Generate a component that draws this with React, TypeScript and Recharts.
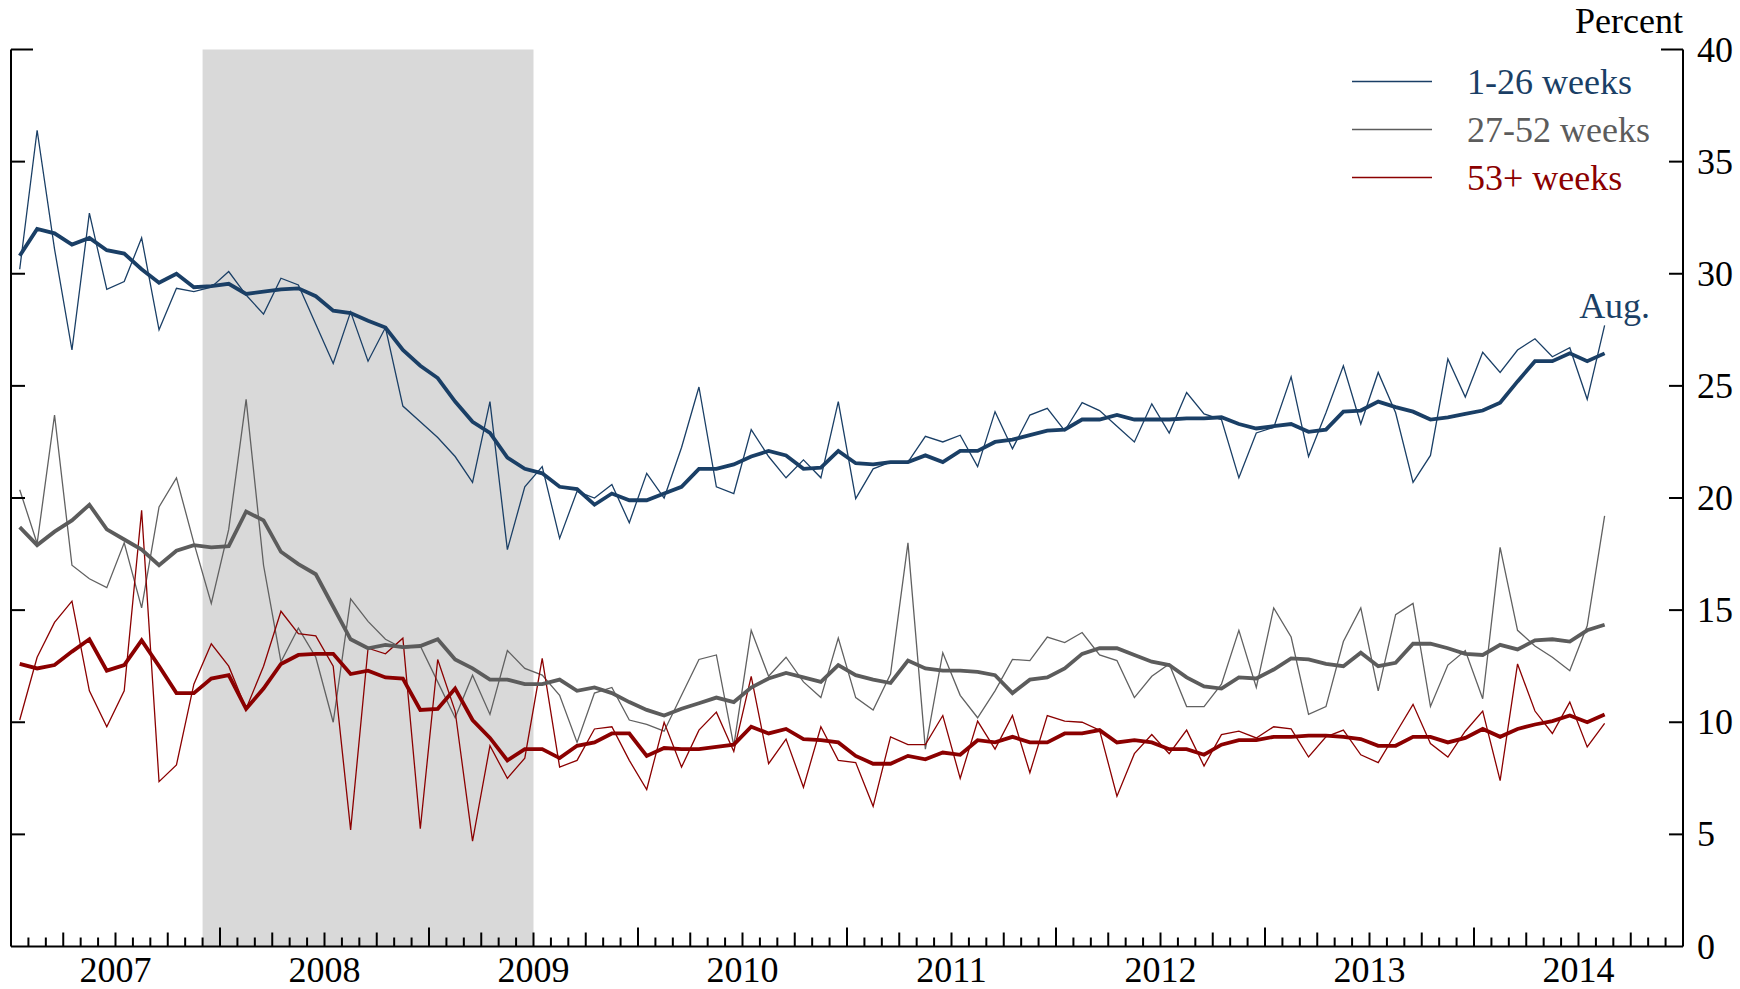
import { ComposedChart, Line, XAxis, YAxis, ReferenceArea } from 'recharts';

// monthly, Jan 2007 - Aug 2014 (index 0 = Jan 2007)
const years = ['2007', '2008', '2009', '2010', '2011', '2012', '2013', '2014'];
const recession = [11, 30]; // Dec 2007 to end of Jun 2009, in months from Jan 2007
const yTicks = [0, 5, 10, 15, 20, 25, 30, 35, 40];

const short = [
  30.2, 36.4, 31.1, 26.6, 32.7, 29.3, 29.65, 31.6, 27.5, 29.35, 29.2, 29.4,
  30.1, 29.05, 28.2, 29.8, 29.5, 27.75, 26.0, 28.3, 26.1, 27.6, 24.1, 23.4,
  22.7, 21.85, 20.7, 24.3, 17.7, 20.5, 21.4, 18.2, 20.3, 20.0, 20.6, 18.9,
  21.1, 20.0, 22.25, 24.95, 20.5, 20.2, 23.05, 21.85, 20.9, 21.7, 20.9, 24.3,
  19.97, 21.3, 21.6, 21.6, 22.75, 22.5, 22.8, 21.4, 23.85, 22.2, 23.7, 24.0,
  23.0, 24.25, 23.9, 23.2, 22.5, 24.2, 22.9, 24.7, 23.75, 23.5, 20.9, 22.9,
  23.15, 25.4, 21.85, 23.8, 25.9, 23.3, 25.6, 23.8, 20.7, 21.9, 26.2, 24.5,
  26.5, 25.6, 26.6, 27.1, 26.3, 26.7, 24.4, 27.7,
];
const shortAvg = [
  30.8, 32.0, 31.8, 31.3, 31.6, 31.05, 30.9, 30.2, 29.6, 30.0, 29.4, 29.45,
  29.55, 29.1, 29.2, 29.3, 29.35, 29.0, 28.35, 28.25, 27.9, 27.6, 26.6, 25.9,
  25.35, 24.3, 23.4, 22.9, 21.8, 21.3, 21.1, 20.5, 20.4, 19.7, 20.2, 19.9,
  19.9, 20.2, 20.5, 21.3, 21.3, 21.5, 21.85, 22.1, 21.9, 21.3, 21.35, 22.1,
  21.55, 21.5, 21.6, 21.6, 21.9, 21.6, 22.1, 22.1, 22.5, 22.6, 22.8, 23.0,
  23.05, 23.5, 23.5, 23.7, 23.5, 23.5, 23.5, 23.55, 23.55, 23.6, 23.3, 23.1,
  23.2, 23.3, 22.95, 23.05, 23.85, 23.9, 24.3, 24.05, 23.85, 23.5, 23.6, 23.75,
  23.9, 24.25, 25.2, 26.1, 26.1, 26.45, 26.1, 26.45,
];
const mid = [
  20.37, 17.97, 23.7, 17.0, 16.4, 16.0, 18.0, 15.1, 19.6, 20.9, 18.0, 15.3,
  18.6, 24.4, 17.0, 12.7, 14.2, 12.9, 10.0, 15.5, 14.5, 13.7, 13.3, 13.4,
  11.8, 10.2, 12.1, 10.35, 13.2, 12.4, 12.1, 11.2, 9.1, 11.3, 11.55, 10.1,
  9.9, 9.6, 11.2, 12.8, 13.0, 8.95, 14.1, 12.05, 12.9, 11.8, 11.1, 13.75,
  11.1, 10.55, 12.15, 18.0, 8.8, 13.1, 11.2, 10.2, 11.4, 12.8, 12.75, 13.8,
  13.55, 14.0, 13.0, 12.75, 11.1, 12.05, 12.6, 10.7, 10.7, 11.7, 14.1, 11.55,
  15.1, 13.8, 10.35, 10.7, 13.6, 15.1, 11.4, 14.8, 15.3, 10.7, 12.55, 13.2,
  11.05, 17.8, 14.1, 13.4, 12.9, 12.3, 14.3, 19.2,
];
const midAvg = [
  18.7, 17.9, 18.5, 19.0, 19.7, 18.6, 18.15, 17.7, 17.0, 17.65, 17.9, 17.8,
  17.85, 19.4, 19.0, 17.6, 17.05, 16.6, 15.15, 13.7, 13.3, 13.45, 13.35, 13.4,
  13.7, 12.8, 12.4, 11.9, 11.9, 11.7, 11.7, 11.9, 11.4, 11.55, 11.3, 10.9,
  10.55, 10.3, 10.6, 10.85, 11.1, 10.9, 11.55, 11.95, 12.2, 12.0, 11.8, 12.55,
  12.1, 11.9, 11.75, 12.75, 12.4, 12.3, 12.3, 12.25, 12.1, 11.3, 11.9, 12.0,
  12.4, 13.05, 13.3, 13.3, 13.0, 12.7, 12.55, 12.0, 11.6, 11.5, 12.0, 11.95,
  12.35, 12.85, 12.8, 12.6, 12.5, 13.1, 12.5, 12.65, 13.5, 13.5, 13.3, 13.05,
  13.0, 13.45, 13.25, 13.65, 13.7, 13.6, 14.1, 14.35,
];
const long = [
  10.1, 12.9, 14.45, 15.4, 11.4, 9.8, 11.4, 19.45, 7.35, 8.1, 11.7, 13.5,
  12.5, 10.6, 12.5, 14.95, 13.95, 13.85, 12.5, 5.2, 13.3, 13.05, 13.75, 5.25,
  12.8, 10.5, 4.7, 8.95, 7.5, 8.4, 12.85, 8.0, 8.3, 9.7, 9.8, 8.3,
  7.0, 10.0, 8.0, 9.65, 10.45, 8.7, 12.05, 8.15, 9.25, 7.1, 9.8, 8.3,
  8.2, 6.25, 9.35, 9.0, 9.0, 10.3, 7.5, 10.05, 8.8, 10.3, 7.75, 10.3,
  10.05, 10.0, 9.65, 6.7, 8.6, 9.45, 8.6, 9.65, 8.05, 9.45, 9.6, 9.3,
  9.8, 9.7, 8.45, 9.35, 9.65, 8.55, 8.2, 9.5, 10.8, 9.05, 8.45, 9.6,
  10.5, 7.4, 12.6, 10.5, 9.5, 10.9, 8.9, 9.95,
];
const longAvg = [
  12.6, 12.4, 12.55, 13.15, 13.7, 12.3, 12.55, 13.65, 12.5, 11.3, 11.3, 11.95,
  12.1, 10.6, 11.5, 12.6, 13.0, 13.05, 13.05, 12.15, 12.3, 12.0, 11.95, 10.55,
  10.6, 11.5, 10.1, 9.3, 8.3, 8.8, 8.8, 8.4, 8.95, 9.1, 9.5, 9.5,
  8.5, 8.85, 8.8, 8.8, 8.9, 9.0, 9.8, 9.5, 9.7, 9.25, 9.2, 9.1,
  8.5, 8.15, 8.15, 8.5, 8.35, 8.65, 8.55, 9.2, 9.1, 9.35, 9.1, 9.1,
  9.5, 9.5, 9.65, 9.1, 9.2, 9.1, 8.8, 8.8, 8.55, 9.0, 9.2, 9.2,
  9.35, 9.35, 9.4, 9.4, 9.35, 9.25, 8.95, 8.95, 9.35, 9.35, 9.1, 9.3,
  9.7, 9.35, 9.7, 9.9, 10.05, 10.3, 10.0, 10.35,
];

const BLUE = '#1a3f66';
const GRAY = '#5c5c5c';
const RED = '#8b0000';
const FONT = 'Liberation Serif, Times New Roman, serif';

const data = short.map((v, i) => ({
  m: i + 0.5,
  short: v,
  shortAvg: shortAvg[i],
  mid: mid[i],
  midAvg: midAvg[i],
  long: long[i],
  longAvg: longAvg[i],
}));

const monthTicks = Array.from({ length: 97 }, (_, i) => i);

function MonthTick({ x, y, payload }: any) {
  const v = payload.value;
  let len = 9;
  if (v % 12 === 0) len = 19;
  else if (v % 3 === 0) len = 14;
  return (
    <g>
      {v > 0 && v < 96 && (
        <line x1={x} x2={x} y1={y} y2={y - len} stroke="#000" strokeWidth={2} />
      )}
      {v % 12 === 6 && (
        <text x={x} y={y + 35.5} textAnchor="middle" style={{ fontFamily: FONT }} fontSize={36} fill="#000">
          {years[(v - 6) / 12]}
        </text>
      )}
    </g>
  );
}

function RightTick({ x, y, payload }: any) {
  const v = payload.value;
  const len = v === 40 ? 22 : 14;
  return (
    <g>
      {v > 0 && <line x1={x} x2={x - len} y1={y} y2={y} stroke="#000" strokeWidth={2} />}
      <text x={x + 14} y={y + 12} textAnchor="start" style={{ fontFamily: FONT }} fontSize={36} fill="#000">
        {v}
      </text>
    </g>
  );
}

function LeftTick({ x, y, payload }: any) {
  const v = payload.value;
  if (v === 0) return <g />;
  const len = v === 40 ? 22 : 14;
  return <line x1={x} x2={x + len} y1={y} y2={y} stroke="#000" strokeWidth={2} />;
}

function AugLabel({ x, y, index }: any) {
  if (index !== short.length - 1) return null;
  return (
    <text x={x + 10} y={y - 7} textAnchor="middle" style={{ fontFamily: FONT }} fontSize={36} fill={BLUE}>
      Aug.
    </text>
  );
}

const legendItems = [
  { label: '1-26 weeks', color: BLUE },
  { label: '27-52 weeks', color: GRAY },
  { label: '53+ weeks', color: RED },
];

export default function App() {
  return (
    <div style={{ position: 'absolute', left: 0, top: 0, width: 1740, height: 989, background: '#fff' }}>
      <ComposedChart
        width={1740}
        height={989}
        data={data}
        margin={{ top: 49.5, right: 56, bottom: 41.5, left: 10 }}
      >
        <ReferenceArea
          yAxisId="right"
          x1={recession[0]}
          x2={recession[1]}
          y1={0}
          y2={40}
          fill="#d9d9d9"
          fillOpacity={1}
          stroke="none"
        />
        <XAxis
          dataKey="m"
          type="number"
          domain={[0, 96]}
          allowDataOverflow
          ticks={monthTicks}
          interval={0}
          height={1}
          tickSize={0}
          tickMargin={0}
          tickLine={false}
          tick={<MonthTick />}
          axisLine={{ stroke: '#000', strokeWidth: 2 }}
        />
        <YAxis
          yAxisId="left"
          orientation="left"
          type="number"
          domain={[0, 40]}
          allowDataOverflow
          ticks={yTicks}
          interval={0}
          width={1}
          tickSize={0}
          tickMargin={0}
          tickLine={false}
          tick={<LeftTick />}
          axisLine={{ stroke: '#000', strokeWidth: 2 }}
        />
        <YAxis
          yAxisId="right"
          orientation="right"
          type="number"
          domain={[0, 40]}
          allowDataOverflow
          ticks={yTicks}
          interval={0}
          width={1}
          tickSize={0}
          tickMargin={0}
          tickLine={false}
          tick={<RightTick />}
          axisLine={{ stroke: '#000', strokeWidth: 2 }}
        />
        <Line yAxisId="right" type="linear" dataKey="mid" stroke="#616161" strokeWidth={1.3} dot={false} isAnimationActive={false} />
        <Line yAxisId="right" type="linear" dataKey="long" stroke={RED} strokeWidth={1.3} dot={false} isAnimationActive={false} />
        <Line yAxisId="right" type="linear" dataKey="short" stroke={BLUE} strokeWidth={1.3} dot={false} isAnimationActive={false} label={<AugLabel />} />
        <Line yAxisId="right" type="linear" dataKey="midAvg" stroke={GRAY} strokeWidth={3.8} dot={false} isAnimationActive={false} />
        <Line yAxisId="right" type="linear" dataKey="longAvg" stroke={RED} strokeWidth={3.8} dot={false} isAnimationActive={false} />
        <Line yAxisId="right" type="linear" dataKey="shortAvg" stroke={BLUE} strokeWidth={3.8} dot={false} isAnimationActive={false} />
      </ComposedChart>
      <svg width={1740} height={989} style={{ position: 'absolute', left: 0, top: 0, pointerEvents: 'none' }}>
        <text x={1683} y={33} textAnchor="end" style={{ fontFamily: FONT }} fontSize={36} fill="#000">
          Percent
        </text>
        {legendItems.map((it, i) => (
          <g key={it.label}>
            <line x1={1352} x2={1432} y1={81.5 + i * 48} y2={81.5 + i * 48} stroke={it.color} strokeWidth={1.3} />
            <text x={1467} y={81.5 + i * 48 + 12} style={{ fontFamily: FONT }} fontSize={36} fill={it.color}>
              {it.label}
            </text>
          </g>
        ))}
      </svg>
    </div>
  );
}
